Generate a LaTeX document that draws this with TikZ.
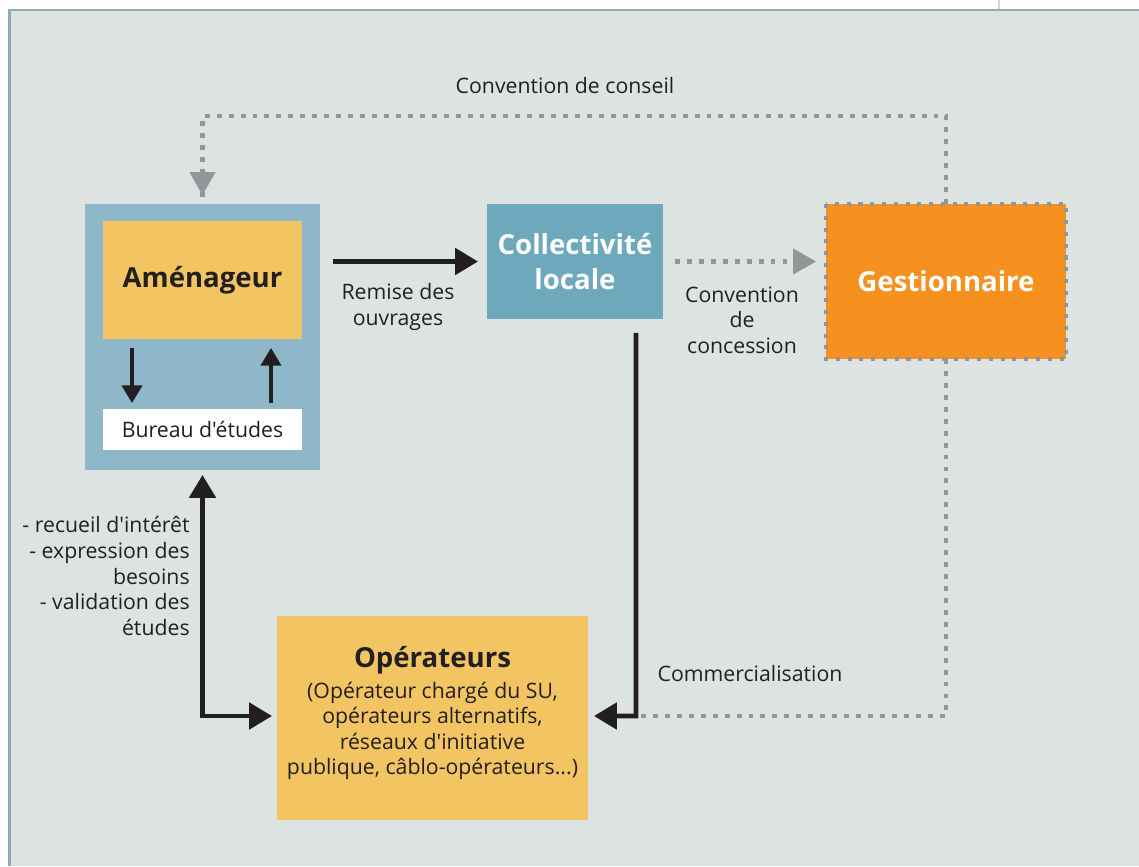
\documentclass[tikz,border=0pt]{standalone}
\usepackage{fontspec}
\setmainfont{Open Sans}[Ligatures=TeXOff]
\usepackage{xcolor}
\usepackage{tikz}
\usetikzlibrary{calc,arrows.meta}
\definecolor{fond}{HTML}{DDE3E0}
\definecolor{cadre}{HTML}{8FAAB8}
\definecolor{bleuclair}{HTML}{8EB7CA}
\definecolor{bleu}{HTML}{6DA8BD}
\definecolor{jaune}{HTML}{F2C462}
\definecolor{orangeg}{HTML}{F6901E}
\definecolor{gris}{HTML}{939598}
\definecolor{texte}{HTML}{231F20}
\tikzset{
  boite/.style={inner sep=0pt, outer sep=0pt},
  lab/.style={text=texte, font=\fontsize{12.1}{14.6}\selectfont, align=center, inner sep=0pt},
  titre/.style={font=\fontsize{15.7}{19.5}\selectfont\bfseries, align=center},
  fleche/.style={draw=texte, line width=2.8pt, -{Triangle[width=14.8pt,length=13pt]}},
  flechefine/.style={draw=texte, line width=1.8pt, -{Triangle[width=11.5pt,length=10pt]}},
  pointille/.style={draw=gris, line width=2.8pt, dash pattern=on 2.8pt off 4pt},
  pointe/.style={-{Triangle[width=14.8pt,length=13pt,fill=gris]}},
}
\begin{document}
\begin{tikzpicture}[x=0.02cm, y=-0.02cm]
  \useasboundingbox[fill=white] (0,0) rectangle (1139,866);
  \fill[fond] (9,10) rectangle (1139,866);
  \draw[cadre, line width=1.7pt] (9.5,866) -- (9.5,10) -- (1139,10);
  \draw[gris!40, line width=0.8pt] (999,0) -- (999,9);

  % boites
  \node[boite, fill=bleuclair, minimum width=4.7cm, minimum height=5.32cm] (amenagBox) at (202.5,337) {};
  \node[boite, fill=jaune, minimum width=3.98cm, minimum height=2.36cm, titre, text=texte] (amenag) at (202.5,280) {Aménageur};
  \node[boite, fill=white, minimum width=3.98cm, minimum height=0.82cm, lab] (bureau) at (202.5,429.5) {Bureau d'études};
  \node[boite, fill=bleu, minimum width=3.52cm, minimum height=2.3cm, titre, text=white] (collect) at (575,261.5) {Collectivité\\locale};
  \node[boite, fill=orangeg, minimum width=4.8cm, minimum height=3.1cm, titre, text=white] (gest) at (946,281.5) {Gestionnaire};
  \draw[gris, line width=2.3pt, dash pattern=on 2.3pt off 4.4pt] (gest.north west) rectangle (gest.south east);
  \node[boite, fill=jaune, minimum width=6.22cm, minimum height=4.08cm] (oper) at (432.5,718) {};
  \node[lab] (operTexte) at (432.5,713) {{\fontsize{15.7}{19.5}\selectfont\bfseries Opérateurs}\\[3pt]
    (Opérateur chargé du SU,\\opérateurs alternatifs,\\réseaux d'initiative\\publique, câblo-opérateurs...)};

  \coordinate (coude) at (636,716);
  \coordinate (haut) at (946,116);

  % liaisons
  \draw[pointille] (gest.north) -- (haut) -| (amenagBox.north);
  \draw[gris, pointe, line width=0pt] ([yshift=0.44cm]amenagBox.north) -- ([yshift=0.18cm]amenagBox.north);
  \draw[pointille, shorten <=0.24cm, shorten >=0.44cm] (collect.east) -- (gest.west |- collect.east);
  \draw[gris, pointe, line width=0pt] ([xshift=-0.44cm]gest.west |- collect.east) -- ([xshift=-0.2cm]gest.west |- collect.east);
  \draw[pointille] (gest.south) |- (coude);
  \draw[fleche, shorten <=0.26cm, shorten >=0.18cm] (amenagBox.east |- collect.west) -- (collect.west);
  \draw[fleche, shorten >=0.12cm] ([xshift=1.22cm, yshift=-0.28cm]collect.south) -- (coude) -- (oper.east |- coude);
  \draw[fleche, {Triangle[width=14.8pt,length=13pt]}-{Triangle[width=14.8pt,length=13pt]}, shorten <=0.1cm, shorten >=0.1cm]
    (amenagBox.south) |- (oper.west |- coude);
  \draw[flechefine, shorten <=0.18cm, shorten >=0.12cm] ([xshift=-1.41cm]amenag.south) -- ([xshift=-1.41cm]bureau.north);
  \draw[flechefine, shorten <=0.12cm, shorten >=0.18cm] ([xshift=1.37cm]bureau.north) -- ([xshift=1.37cm]amenag.south);

  % etiquettes
  \node[lab] (conseil) at (565,86) {Convention de conseil};
  \node[lab] (remise) at (398,307) {Remise des\\ouvrages};
  \node[lab] (concession) at (742,320) {Convention\\de\\concession};
  \node[lab] (commerce) at (750,674) {Commercialisation};
  \node[lab, align=right, anchor=east] (besoins) at (190,576) {- recueil d'intérêt\\- expression des\\besoins\\- validation des\\études};
\end{tikzpicture}
\end{document}
